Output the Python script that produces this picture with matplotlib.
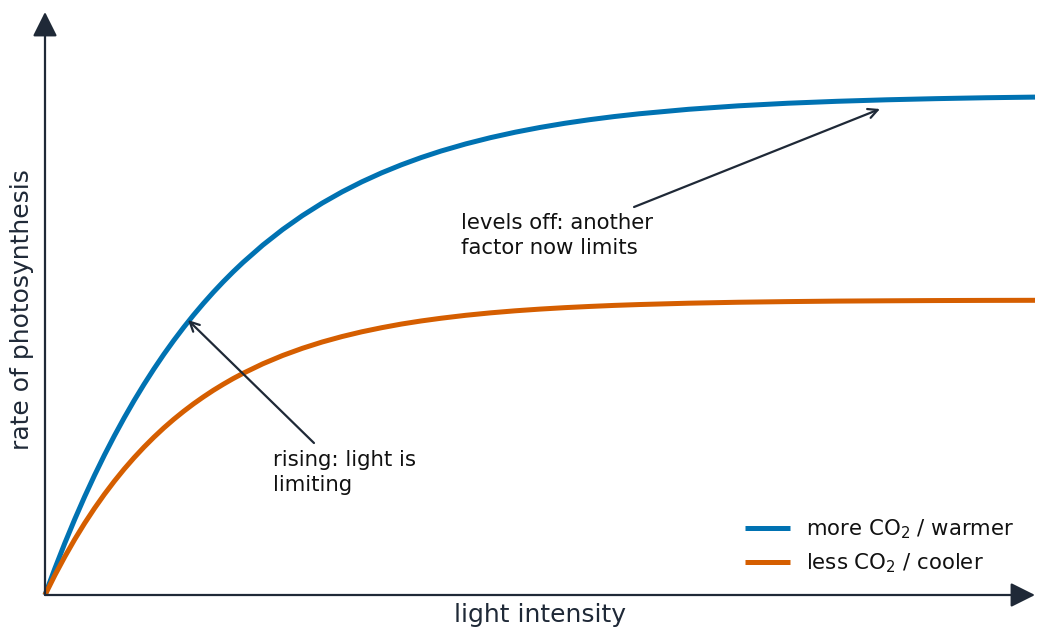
import matplotlib
matplotlib.use("Agg")
import matplotlib.pyplot as plt

# light intensity (arbitrary units)
light = [0, 0.1, 0.2, 0.3, 0.4, 0.5, 0.6, 0.7, 0.8, 0.9, 1.0, 1.1, 1.2, 1.3, 1.4,
         1.5, 1.6, 1.7, 1.8, 1.9, 2.0, 2.2, 2.4, 2.6, 2.8, 3.0, 3.2, 3.4, 3.6, 3.8,
         4.0, 4.25, 4.5, 4.75, 5.0, 5.25, 5.5, 5.75, 6.0, 6.5, 7.0, 7.5, 8.0, 8.5,
         9.0, 9.5, 10.0]
# rate of photosynthesis, more CO2 / warmer
rate_more = [0, 0.532, 1.036, 1.513, 1.965, 2.393, 2.798, 3.181, 3.544, 3.888, 4.213,
             4.521, 4.813, 5.089, 5.350, 5.598, 5.832, 6.054, 6.264, 6.463, 6.651,
             6.998, 7.309, 7.588, 7.838, 8.062, 8.263, 8.443, 8.604, 8.749, 8.879,
             9.022, 9.147, 9.256, 9.351, 9.434, 9.506, 9.569, 9.624, 9.714, 9.783,
             9.835, 9.874, 9.904, 9.927, 9.945, 9.958]
# rate of photosynthesis, less CO2 / cooler
rate_less = [0, 0.397, 0.766, 1.112, 1.434, 1.734, 2.014, 2.275, 2.519, 2.746, 2.958,
             3.156, 3.341, 3.513, 3.673, 3.823, 3.962, 4.093, 4.214, 4.328, 4.433,
             4.624, 4.790, 4.934, 5.060, 5.169, 5.264, 5.346, 5.419, 5.481, 5.535,
             5.594, 5.643, 5.684, 5.718, 5.747, 5.771, 5.792, 5.809, 5.836, 5.855,
             5.868, 5.878, 5.884, 5.889, 5.892, 5.894]

label_more = "more CO$_2$ / warmer"
label_less = "less CO$_2$ / cooler"
xlabel = "light intensity"
ylabel = "rate of photosynthesis"
note_level = "levels off: another\nfactor now limits"
note_rise = "rising: light is\nlimiting"

BLUE = "#0072B2"
ORANGE = "#D55E00"
DARK = "#1f2937"
TXT = "#111111"

plt.rcParams['font.family'] = ['DejaVu Sans']
fig = plt.figure(figsize=(10.38, 6.30), dpi=100)
ax = fig.add_axes([45/1038, 35/630, 990/1038, 583/630])
ax.set_xlim(0, 10)
ax.set_ylim(0, 11.66)
for s in ax.spines.values():
    s.set_visible(False)
ax.set_xticks([])
ax.set_yticks([])

ax.plot(light, rate_more, color=BLUE, lw=3.6, label=label_more, clip_on=False,
        solid_capstyle='butt', solid_joinstyle='round', zorder=3)
ax.plot(light, rate_less, color=ORANGE, lw=3.6, label=label_less, clip_on=False,
        solid_capstyle='butt', solid_joinstyle='round', zorder=3)

# axes with arrow heads
arrow_kw = dict(arrowstyle='-|>,head_length=1.0,head_width=0.5', mutation_scale=15,
                color=DARK, lw=1.6, shrinkA=0, shrinkB=0)
ax.annotate('', xy=(1.0, 0), xytext=(0, 0), xycoords='axes fraction',
            textcoords='axes fraction', arrowprops=arrow_kw, annotation_clip=False)
ax.annotate('', xy=(0, 1.0), xytext=(0, 0), xycoords='axes fraction',
            textcoords='axes fraction', arrowprops=arrow_kw, annotation_clip=False)

ax.text(0.5, -0.035, xlabel, transform=ax.transAxes, ha='center', va='center',
        fontsize=18, color=DARK)
ax.text(-0.023, 0.49, ylabel, transform=ax.transAxes, ha='center', va='center',
        rotation=90, fontsize=18, color=DARK)

ann_kw = dict(arrowstyle='->', color=DARK, lw=1.6, shrinkA=0, shrinkB=0,
              mutation_scale=17)
ax.annotate('', xy=(8.434, 9.72), xytext=(5.95, 7.76), arrowprops=ann_kw)
ax.annotate('', xy=(1.444, 5.5), xytext=(2.717, 3.04), arrowprops=ann_kw)
ax.text(4.20, 7.64, note_level, ha='left', va='top', fontsize=15.3, color=TXT,
        linespacing=1.32)
ax.text(2.303, 2.9, note_rise, ha='left', va='top', fontsize=15.3, color=TXT,
        linespacing=1.32)

leg = ax.legend(loc='lower right', bbox_to_anchor=(0.979, 0.034), frameon=False,
                fontsize=15.3, handlelength=2.1, handletextpad=0.75, labelspacing=0.5,
                borderpad=0, borderaxespad=0)
for t in leg.get_texts():
    t.set_color(TXT)
for h in leg.get_lines():
    h.set_linewidth(3.6)

fig.savefig('out.png', dpi=100, facecolor='white')
